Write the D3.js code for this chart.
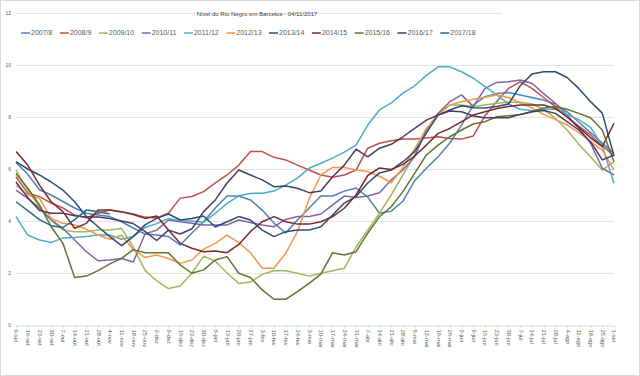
<!DOCTYPE html>
<html>
<head>
<meta charset="utf-8">
<script src="https://cdn.jsdelivr.net/npm/d3@7"></script>
<style>
  body { margin: 0; background: #fff; }
  svg { display: block; font-family: "Liberation Sans", Arial, sans-serif; }
</style>
</head>
<body>
<div id="chart"></div>
<script>
// Weekly dates (Sep -> Sep)
const categories = ["9-set","16-set","23-set","30-set","7-out","14-out","21-out","28-out",
  "4-nov","11-nov","18-nov","25-nov","2-dez","9-dez","16-dez","23-dez","30-dez",
  "6-jan","13-jan","20-jan","27-jan","3-fev","10-fev","17-fev","24-fev",
  "3-mar","10-mar","17-mar","24-mar","31-mar","7-abr","14-abr","21-abr","28-abr",
  "5-mai","12-mai","19-mai","26-mai","2-jun","9-jun","16-jun","23-jun","30-jun",
  "7-jul","14-jul","21-jul","28-jul","4-ago","11-ago","18-ago","25-ago","1-set"];

const seriesNames = ["2007/8","2008/9","2009/10","2010/11","2011/12","2012/13",
  "2013/14","2014/15","2015/16","2016/17","2017/18"];

const v2007 = [6.25,5.8,5.2,5.0,4.75,4.5,4.3,4.23,4.17,3.97,3.73,3.5,3.46,3.4,3.08,3.54,3.97,4.5,4.96,4.96,4.81,4.42,3.92,3.54,4.04,4.5,4.96,4.96,5.15,5.27,4.92,4.3,4.38,4.76,5.55,6.03,6.47,7.0,7.69,8.46,8.78,8.9,8.94,8.85,8.75,8.65,8.5,8.2,7.8,7.4,7.0,6.6];
const v2008 = [5.7,5.07,4.94,4.69,4.5,4.23,4.12,4.3,4.42,4.35,4.27,4.15,4.12,4.3,4.88,4.94,5.13,5.47,5.77,6.15,6.67,6.67,6.45,6.35,6.15,5.96,5.77,5.68,5.77,5.96,6.8,6.99,7.09,7.15,7.15,7.19,7.24,7.17,7.15,7.27,8.05,8.6,9.1,9.35,9.1,8.75,8.4,8.0,7.65,7.3,6.9,6.5];
const v2009 = [5.96,5.19,4.55,4.04,3.65,3.59,3.59,3.65,3.65,3.72,3.0,2.1,1.7,1.4,1.5,2.0,2.65,2.45,2.0,1.6,1.65,1.95,2.09,2.09,1.99,1.88,1.99,2.09,2.18,3.0,3.65,4.3,5.0,5.77,6.54,7.5,8.14,8.46,8.46,8.4,8.46,8.53,8.57,8.57,8.5,8.3,7.95,7.5,6.95,6.47,5.96,6.28];
const v2010 = [5.19,4.87,4.5,4.04,3.72,3.27,2.82,2.47,2.5,2.56,2.42,3.5,3.65,4.04,3.97,3.91,3.85,3.85,3.85,4.04,3.94,3.85,3.78,4.06,4.17,4.17,4.27,4.62,4.96,4.9,4.96,5.09,5.58,5.96,6.47,7.5,8.14,8.59,8.85,8.4,9.1,9.33,9.36,9.42,9.3,8.9,8.53,8.08,7.56,6.99,6.03,5.77];
const v2011 = [4.17,3.46,3.27,3.17,3.35,3.37,3.4,3.46,3.46,3.3,3.4,3.75,3.9,4.1,4.0,4.0,3.95,4.3,4.68,4.97,5.06,5.07,5.15,5.38,5.65,6.03,6.22,6.42,6.65,6.92,7.69,8.27,8.54,8.92,9.2,9.6,9.93,9.93,9.74,9.49,9.17,8.85,8.5,8.3,8.25,8.3,8.3,8.1,7.9,7.6,6.9,5.45];
const v2012 = [5.38,5.0,4.87,4.1,3.91,3.85,3.68,3.46,3.3,3.45,2.9,2.6,2.69,2.56,2.37,2.5,2.92,3.14,3.46,3.17,2.78,2.18,2.18,2.76,3.59,4.85,5.77,6.06,6.06,5.96,5.9,5.72,5.47,6.06,6.77,7.56,8.08,8.46,8.59,8.68,8.76,8.85,8.75,8.55,8.35,8.1,7.9,7.7,7.4,7.05,6.73,5.96];
const v2013 = [6.28,6.0,5.77,5.5,5.19,4.74,4.17,3.78,3.4,3.05,3.4,3.85,4.1,4.27,4.04,4.1,4.19,3.77,3.97,4.17,4.04,3.65,3.4,3.59,3.65,3.65,3.78,4.23,4.69,4.94,5.46,5.85,5.96,6.28,6.67,7.38,8.08,8.27,8.43,8.36,8.35,8.4,8.5,9.2,9.65,9.74,9.74,9.52,9.1,8.59,8.15,6.5];
const v2014 = [6.67,6.15,5.38,4.74,4.36,3.72,3.91,4.42,4.42,4.36,4.25,4.1,4.19,3.65,3.14,2.95,2.82,2.85,2.78,3.1,3.6,3.97,4.17,3.97,3.88,3.88,3.97,4.17,4.49,5.0,5.75,6.04,5.98,6.18,6.5,6.92,7.37,7.56,7.82,8.08,8.2,8.33,8.4,8.46,8.46,8.46,8.33,8.0,7.6,7.2,6.86,7.76];
const v2015 = [5.83,5.26,4.62,3.78,3.14,1.83,1.88,2.09,2.35,2.56,2.9,2.78,2.78,2.78,2.31,1.99,2.12,2.5,2.63,1.99,1.83,1.35,0.99,0.99,1.28,1.6,1.96,2.78,2.69,2.82,3.53,4.17,4.55,5.13,5.83,6.54,6.92,7.24,7.5,7.73,7.82,8.01,8.05,8.1,8.2,8.35,8.4,8.3,8.14,7.97,7.5,6.28];
const v2016 = [5.5,4.9,4.4,4.3,4.3,4.2,4.15,4.15,4.1,4.0,3.9,3.6,3.25,3.65,3.5,3.7,4.36,4.81,5.46,5.96,5.77,5.58,5.32,5.35,5.26,5.09,5.15,5.7,6.15,6.76,6.47,6.8,6.95,7.24,7.56,7.88,8.08,8.23,8.2,8.04,7.97,7.97,7.97,8.1,8.2,8.25,8.14,7.82,7.5,7.05,6.35,6.54];
const v2017 = [4.74,4.4,4.05,3.82,3.75,4.05,4.42,4.36,4.27];

const yTicks = [0, 2, 4, 6, 8, 10, 12];
const colors = ["#4F81BD","#C0504D","#9BBB59","#8064A2","#4BACC6","#F79646",
  "#2C4D75","#772C2A","#5F7530","#4D3B62","#276A7C"];

const seriesValues = [v2007, v2008, v2009, v2010, v2011, v2012, v2013, v2014, v2015, v2016, v2017];

const width = 640, height = 376;
const svg = d3.select("#chart").append("svg")
    .attr("width", width)
    .attr("height", height);

svg.append("rect")
    .attr("x", 0.5).attr("y", 0.5)
    .attr("width", width - 1).attr("height", height - 1)
    .attr("fill", "#fff").attr("stroke", "#d9d9d9");

const x = d3.scalePoint().domain(categories).range([16, 614]);
const y = d3.scaleLinear().domain([0, 12]).range([325, 13]);

// horizontal gridlines
svg.append("g").selectAll("line")
    .data(yTicks.filter(d => d > 0))
    .join("line")
    .attr("x1", 16)
    .attr("x2", d => d === 12 ? 502 : 614)
    .attr("y1", d => Math.round(y(d)) + 0.5)
    .attr("y2", d => Math.round(y(d)) + 0.5)
    .attr("stroke", "#e3e3e3")
    .attr("stroke-width", 1);

// y labels
svg.append("g").selectAll("text")
    .data(yTicks)
    .join("text")
    .attr("x", 11)
    .attr("y", d => y(d))
    .attr("dy", "0.35em")
    .attr("text-anchor", "end")
    .attr("font-size", 5)
    .attr("fill", "#595959")
    .text(d => d);

// x axis
const xAxis = svg.append("g")
    .attr("transform", `translate(0,${Math.round(y(0)) + 0.5})`)
    .call(d3.axisBottom(x).tickSize(3).tickSizeOuter(0));
xAxis.select(".domain").attr("stroke", "#d9d9d9");
xAxis.selectAll(".tick line").attr("stroke", "#d9d9d9");
xAxis.selectAll(".tick text")
    .attr("transform", "rotate(90)")
    .attr("x", 4)
    .attr("y", 0)
    .attr("dy", "0.35em")
    .style("text-anchor", "start")
    .attr("font-size", 5.8)
    .attr("font-family", null)
    .attr("fill", "#595959");

// series lines
const line = d3.line()
    .x((d, i) => x(categories[i]))
    .y(d => y(d));

svg.append("g").selectAll("path")
    .data(seriesValues)
    .join("path")
    .attr("fill", "none")
    .attr("stroke", (d, i) => colors[i])
    .attr("stroke-width", 1.5)
    .attr("stroke-linejoin", "round")
    .attr("d", line);

// title
svg.append("text")
    .attr("x", 257)
    .attr("y", 14)
    .attr("dy", "0.35em")
    .attr("text-anchor", "middle")
    .attr("font-size", 6)
    .attr("fill", "#404040")
    .text("Nível do Rio Negro em Barcelos - 04/11/2017");

// legend
const legend = svg.append("g");
let lx = 21;
seriesNames.forEach((name, i) => {
    const g = legend.append("g").attr("transform", `translate(${lx},33)`);
    g.append("line")
        .attr("x1", 0).attr("x2", 9)
        .attr("stroke", colors[i]).attr("stroke-width", 1.5);
    const t = g.append("text")
        .attr("x", 10)
        .attr("dy", "0.35em")
        .attr("font-size", 7)
        .attr("fill", "#595959")
        .text(name);
    lx += 10 + t.node().getComputedTextLength() + 7.5;
});
</script>
</body>
</html>
